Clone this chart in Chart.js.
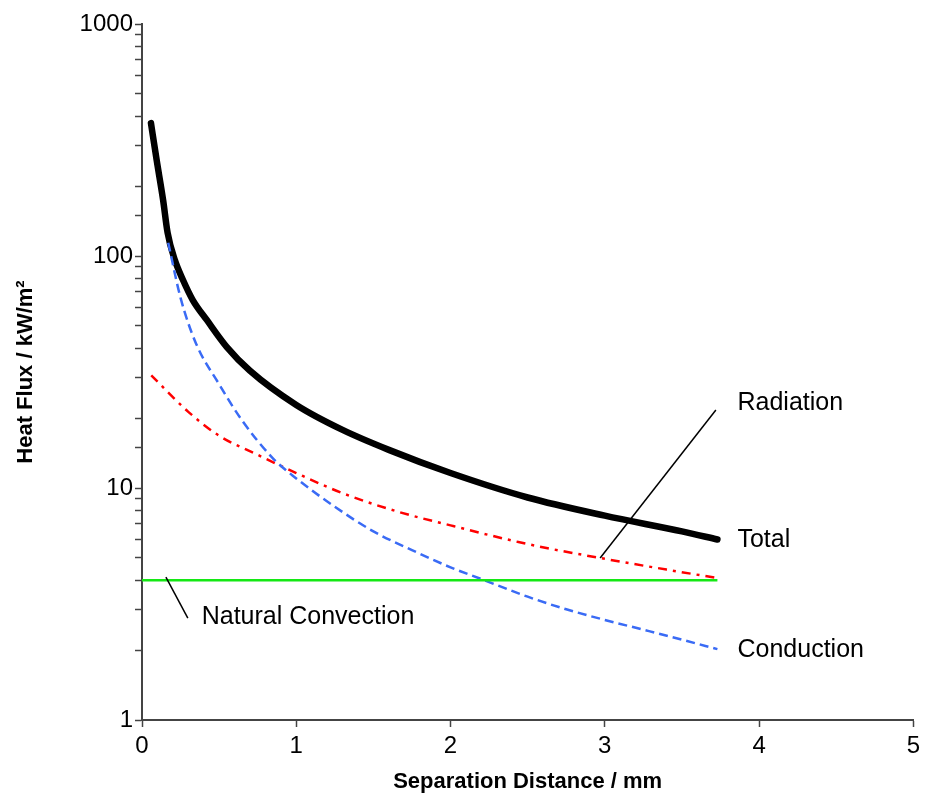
<!DOCTYPE html>
<html>
<head>
<meta charset="utf-8">
<script src="https://cdn.jsdelivr.net/npm/chart.js@4.4.0/dist/chart.umd.min.js"></script>
<style>
  body { margin: 0; background: #fff; }
  #wrap { width: 925px; height: 795px; }
</style>
</head>
<body>
<div id="wrap"><canvas id="flux" width="925" height="795"></canvas></div>
<script>
// separation distance (mm) and heat flux (kW/m2) per mode
const totalX = [0.058, 0.095, 0.137, 0.166, 0.213, 0.265, 0.329, 0.42, 0.55, 0.7, 1.0, 1.3, 1.6, 2.0, 2.5, 3.0, 3.5, 3.73];
const totalY = [374, 259, 174, 126, 96, 79, 64.6, 53, 40.5, 32, 22.8, 17.8, 14.6, 11.6, 9.1, 7.6, 6.5, 6.0];

const condX = [0.17, 0.25, 0.35, 0.5, 0.65, 0.85, 1.0, 1.25, 1.5, 1.75, 2.0, 2.2, 2.5, 2.75, 3.0, 3.25, 3.5, 3.73];
const condY = [114, 66, 42, 28, 19.5, 13.4, 11, 8.3, 6.5, 5.4, 4.55, 4.05, 3.4, 3.0, 2.7, 2.45, 2.22, 2.02];

const radX = [0.06, 0.3, 0.5, 0.75, 1.0, 1.3, 1.66, 2.0, 2.44, 2.63, 3.0, 3.4, 3.73];
const radY = [30.6, 21.3, 16.8, 13.9, 11.6, 9.5, 7.9, 6.9, 5.85, 5.5, 4.95, 4.45, 4.09];

const convX = [0, 3.73];
const convY = [4, 4];

const xTicks = [0, 1, 2, 3, 4, 5];
const yLabels = [1, 10, 100, 1000];

const toPoints = (xs, ys) => xs.map((x, i) => ({ x: x, y: ys[i] }));

// text labels and leader lines, in data units
const notes = [
    { text: 'Radiation', x: 3.86, y: 23.3 },
    { text: 'Total', x: 3.86, y: 5.97 },
    { text: 'Conduction', x: 3.86, y: 2.0 },
    { text: 'Natural Convection', x: 0.387, y: 2.78 }
];
const leaders = [
    { x1: 2.97, y1: 4.99, x2: 3.72, y2: 21.7 },
    { x1: 0.155, y1: 4.13, x2: 0.297, y2: 2.75 }
];

const notesPlugin = {
    id: 'notes',
    afterDatasetsDraw(chart) {
        const ctx = chart.ctx;
        const xs = chart.scales.x, ys = chart.scales.y;
        ctx.save();
        ctx.strokeStyle = '#000';
        ctx.lineWidth = 1.5;
        leaders.forEach(l => {
            ctx.beginPath();
            ctx.moveTo(xs.getPixelForValue(l.x1), ys.getPixelForValue(l.y1));
            ctx.lineTo(xs.getPixelForValue(l.x2), ys.getPixelForValue(l.y2));
            ctx.stroke();
        });
        ctx.fillStyle = '#000';
        ctx.font = '25px "Liberation Sans", Arial, sans-serif';
        ctx.textBaseline = 'middle';
        ctx.textAlign = 'left';
        notes.forEach(n => {
            ctx.fillText(n.text, xs.getPixelForValue(n.x), ys.getPixelForValue(n.y));
        });
        ctx.restore();
    }
};

const ctx = document.getElementById('flux').getContext('2d');
new Chart(ctx, {
    type: 'line',
    data: {
        datasets: [
            {
                label: 'Natural Convection',
                data: toPoints(convX, convY),
                borderColor: '#14e814',
                borderWidth: 2.5,
                pointRadius: 0
            },
            {
                label: 'Conduction',
                data: toPoints(condX, condY),
                borderColor: '#3a6bf5',
                borderWidth: 2.5,
                borderDash: [9, 5],
                pointRadius: 0,
                cubicInterpolationMode: 'monotone'
            },
            {
                label: 'Radiation',
                data: toPoints(radX, radY),
                borderColor: '#ff0000',
                borderWidth: 2.5,
                borderDash: [9, 6, 3, 6],
                pointRadius: 0,
                cubicInterpolationMode: 'monotone'
            },
            {
                label: 'Total',
                data: toPoints(totalX, totalY),
                borderColor: '#000',
                borderWidth: 6.5,
                borderCapStyle: 'round',
                pointRadius: 0,
                cubicInterpolationMode: 'monotone'
            }
        ]
    },
    options: {
        responsive: false,
        animation: false,
        layout: { padding: { top: 24, right: 8, left: 0, bottom: 0 } },
        plugins: {
            legend: { display: false },
            tooltip: { enabled: false }
        },
        scales: {
            x: {
                type: 'linear',
                min: 0,
                max: 5,
                afterFit: (scale) => { scale.height = 75; },
                afterBuildTicks: (scale) => { scale.ticks = xTicks.map(v => ({ value: v })); },
                border: { color: '#444', width: 2 },
                grid: { drawOnChartArea: false, tickLength: 7, color: '#444', tickWidth: 1.5 },
                ticks: {
                    color: '#000',
                    padding: 5,
                    font: { family: '"Liberation Sans", Arial, sans-serif', size: 24 }
                },
                title: {
                    display: true,
                    text: 'Separation Distance / mm',
                    color: '#000',
                    padding: { top: 0, bottom: 0 },
                    font: { family: '"Liberation Sans", Arial, sans-serif', size: 22, weight: 'bold' }
                }
            },
            y: {
                type: 'logarithmic',
                min: 1,
                max: 1000,
                afterFit: (scale) => { scale.width = 142; },
                border: { color: '#444', width: 2 },
                grid: { drawOnChartArea: false, tickLength: 7, color: '#444', tickWidth: 1.5 },
                ticks: {
                    autoSkip: false,
                    color: '#000',
                    padding: 2,
                    font: { family: '"Liberation Sans", Arial, sans-serif', size: 24 },
                    callback: (v) => yLabels.includes(v) ? String(v) : ''
                },
                title: {
                    display: true,
                    text: 'Heat Flux / kW/m²',
                    color: '#000',
                    padding: { top: 13, bottom: 0 },
                    font: { family: '"Liberation Sans", Arial, sans-serif', size: 22, weight: 'bold' }
                }
            }
        }
    },
    plugins: [notesPlugin]
});
</script>
</body>
</html>
